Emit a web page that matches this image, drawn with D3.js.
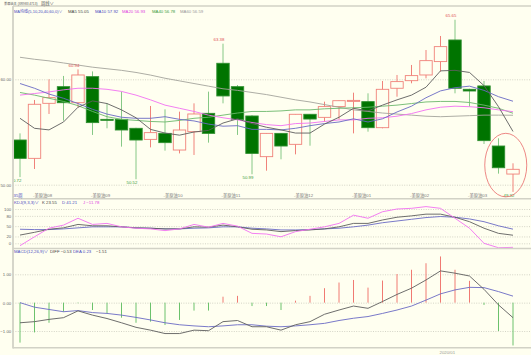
<!DOCTYPE html>
<html lang="zh">
<head>
  <meta charset="UTF-8">
  <title>美原油 周线</title>
  <style>
    body { margin: 0; background: #fffff0; }
    svg { display: block; }
  </style>
</head>
<body>
  <svg id="chart" width="531" height="355"></svg>

  <script src="https://d3js.org/d3.v7.min.js"></script>
  <script>
    // Weekly candles
    const opens  = [54.24, 52.50, 57.72, 59.30, 57.78, 60.25, 56.20, 56.20, 55.35, 54.30, 54.87, 53.29, 55.03, 56.77, 61.52, 59.30, 56.52, 52.66, 54.87, 53.83, 56.68, 56.39, 57.41, 57.97, 57.88, 55.41, 59.15, 59.87, 60.41, 61.68, 63.73, 59.05, 59.37, 53.67, 51.01]
    const highs  = [54.87, 58.04, 60.00, 60.32, 60.94, 60.75, 57.72, 58.83, 55.40, 57.47, 57.15, 56.93, 57.72, 58.83, 63.38, 59.46, 56.60, 54.90, 54.90, 56.70, 56.70, 57.88, 58.00, 58.73, 58.67, 59.84, 60.41, 61.36, 62.78, 64.11, 65.65, 59.10, 59.84, 54.40, 52.03]
    const lows   = [50.72, 51.49, 56.71, 56.08, 57.34, 54.72, 55.35, 53.61, 50.52, 53.54, 53.23, 52.97, 52.82, 53.99, 57.72, 54.72, 50.99, 51.33, 52.41, 52.88, 53.70, 55.98, 56.20, 54.87, 55.03, 55.35, 58.35, 59.62, 60.09, 60.73, 58.67, 57.41, 53.86, 51.05, 49.32]
    const closes = [52.50, 57.63, 58.26, 57.78, 60.41, 55.89, 56.15, 55.19, 54.24, 54.94, 53.99, 55.19, 56.71, 54.87, 58.42, 56.20, 52.97, 54.87, 53.67, 56.68, 56.23, 57.41, 57.97, 58.00, 55.41, 59.05, 59.78, 60.35, 61.77, 63.10, 59.15, 58.89, 54.18, 51.61, 51.46]

    // Moving averages
    const ma5  = [56.30, 55.35, 55.20, 55.95, 57.35, 57.95, 57.70, 57.10, 56.35, 55.25, 54.90, 54.70, 55.00, 55.15, 55.85, 56.25, 55.80, 55.45, 55.20, 54.90, 54.90, 55.75, 56.40, 57.25, 57.00, 57.55, 58.05, 58.50, 59.25, 60.80, 60.85, 60.65, 59.40, 57.40, 55.05]
    const ma10 = [59.60, 59.15, 58.60, 58.20, 57.70, 57.15, 56.70, 56.40, 56.30, 56.30, 56.45, 56.20, 56.05, 55.75, 55.55, 55.60, 55.25, 55.25, 55.20, 55.35, 55.60, 55.80, 55.95, 56.25, 55.95, 56.25, 56.90, 57.45, 58.25, 58.90, 59.20, 59.35, 58.95, 58.35, 57.92]
    const ma20 = [58.50, 58.65, 58.80, 59.00, 59.15, 59.15, 59.05, 58.85, 58.50, 58.05, 57.55, 57.25, 56.95, 56.60, 56.35, 56.15, 55.90, 55.70, 55.60, 55.80, 55.85, 56.00, 56.15, 56.15, 56.30, 56.35, 56.50, 56.75, 57.10, 57.35, 57.45, 57.40, 57.30, 57.10, 56.93]
    const ma40 = [58.75, 58.50, 58.20, 57.90, 57.50, 56.95, 56.45, 56.20, 56.10, 56.00, 55.95, 56.10, 56.30, 56.40, 56.60, 56.80, 56.95, 56.95, 57.00, 57.10, 57.10, 57.20, 57.25, 57.30, 57.35, 57.45, 57.55, 57.70, 57.85, 57.90, 57.90, 57.80, 57.55, 57.25, 56.78]
    const ma60 = [62.09, 61.90, 61.75, 61.55, 61.35, 61.15, 61.00, 60.85, 60.65, 60.40, 60.10, 59.85, 59.60, 59.35, 59.10, 58.95, 58.75, 58.55, 58.30, 58.05, 57.85, 57.60, 57.35, 57.10, 56.95, 56.80, 56.70, 56.60, 56.50, 56.45, 56.50, 56.55, 56.60, 56.60, 56.59]

    // KDJ(9,3,3)
    const kValues = [24, 32, 41, 45, 55, 51, 51, 48, 45, 44, 42, 42, 48, 47, 53, 48, 41, 39, 34, 37, 39, 42, 48, 58, 58, 68, 76, 80, 85, 85, 76, 63, 44, 29, 23.55]
    const dValues = [41, 40, 40, 42, 45, 48, 48, 48, 45, 44, 42, 42, 44, 45, 48, 48, 44, 42, 39, 39, 40, 42, 44, 48, 53, 60, 65, 70, 75, 78, 76, 71, 63, 51, 41.21]
    const jValues = [-7, 19, 44, 53, 73, 55, 58, 48, 44, 42, 37, 42, 55, 47, 58, 50, 29, 27, 19, 34, 41, 48, 58, 82, 73, 92, 100, 102, 107, 102, 73, 44, 0, -13, -11.78]

    // MACD(12,26,9)
    const difValues  = [-0.71, -0.67, -0.59, -0.53, -0.29, -0.44, -0.56, -0.71, -0.87, -0.97, -1.09, -1.09, -0.97, -0.99, -0.67, -0.63, -0.85, -0.85, -0.97, -0.78, -0.67, -0.41, -0.26, -0.12, -0.20, 0.04, 0.29, 0.51, 0.80, 1.12, 1.04, 0.94, 0.47, -0.08, -0.53]
    const deaValues  = [0.00, -0.16, -0.24, -0.32, -0.28, -0.35, -0.38, -0.44, -0.52, -0.61, -0.71, -0.78, -0.82, -0.85, -0.82, -0.78, -0.78, -0.83, -0.85, -0.82, -0.78, -0.73, -0.63, -0.55, -0.49, -0.38, -0.26, -0.12, 0.09, 0.31, 0.45, 0.54, 0.53, 0.39, 0.23]
    const macdValues = [-1.41, -1.05, -0.71, -0.32, -0.02, -0.26, -0.37, -0.53, -0.71, -0.67, -0.79, -0.61, -0.28, -0.28, 0.21, 0.24, -0.12, -0.12, -0.26, 0.07, 0.24, 0.51, 0.71, 0.80, 0.53, 0.78, 1.01, 1.16, 1.39, 1.63, 1.16, 0.77, -0.08, -1.00, -1.51]

    // Axis labels
    const monthWeeks  = [1, 5, 10, 14, 19, 23, 27, 31]
    const monthLabels = ['-美原油08', '-美原油09', '-美原油10', '-美原油11', '-美原油12', '-美原油01', '-美原油02', '-美原油03']
    const priceTicks = [50, 60]
    const kdjTicks   = [0, 20, 50, 80, 100]
    const macdTicks  = [-1, 0, 1]
    const yearWeek = 29
    const yearLabel = '2020/01'

    // Weeks whose high / low gets a price label
    const peakWeeks   = [4, 14, 30]
    const troughWeeks = [0, 8, 16, 34]

    const W = 531
    const H = 355
    const left = 13
    const bg = '#fffff0'
    const font = '"Liberation Sans", Arial, "Noto Sans CJK SC", sans-serif'
    const fs = 4.3
    const upColor = '#f0827a'
    const downWick = '#86c886'
    const downBody = '#007400'

    const svg = d3.select('#chart')
      .attr('font-family', font)
      .attr('font-size', fs)

    svg.append('rect').attr('width', W).attr('height', H).attr('fill', bg)

    // Scales
    const x = d3.scalePoint().domain(d3.range(opens.length)).range([20, 513])
    const yPrice = d3.scaleLinear().domain([50, 60]).range([184.7, 79.3])
    const yKdj = d3.scaleLinear().domain([0, 100]).range([243.3, 209])
    const yMacd = d3.scaleLinear().domain([-1, 1]).range([331, 274.3])
    const bodyW = 12.4

    const defs = svg.append('defs')
    defs.append('clipPath').attr('id', 'clip-price')
      .append('rect').attr('x', left + 1).attr('y', 7).attr('width', W - left).attr('height', 191)
    defs.append('clipPath').attr('id', 'clip-kdj')
      .append('rect').attr('x', left + 1).attr('y', 205).attr('width', W - left).attr('height', 43)

    // Grid lines + left tick labels
    const gridAxis = (scale, ticks, fmt) => {
      const g = svg.append('g')
        .attr('transform', `translate(${left}, 0)`)
        .call(d3.axisLeft(scale).tickValues(ticks).tickFormat(fmt).tickSize(-(W - left)).tickPadding(1.8))
        .attr('font-family', font)
        .attr('font-size', fs)
      g.select('.domain').remove()
      g.selectAll('line').attr('stroke', '#c9c9bd').attr('stroke-width', 0.8).attr('stroke-dasharray', '1,1.4')
      g.selectAll('text').attr('fill', '#666')
    }
    gridAxis(yPrice, priceTicks, d3.format('.2f'))
    gridAxis(yKdj, kdjTicks, d3.format('d'))
    gridAxis(yMacd, macdTicks, d3.format('.2f'))

    // Candles
    const candles = svg.append('g').attr('clip-path', 'url(#clip-price)')
      .selectAll('g')
      .data(opens)
      .join('g')

    candles.append('line')
      .attr('x1', (d, i) => x(i))
      .attr('x2', (d, i) => x(i))
      .attr('y1', (d, i) => yPrice(highs[i]))
      .attr('y2', (d, i) => yPrice(lows[i]))
      .attr('stroke', (d, i) => closes[i] >= opens[i] ? upColor : downWick)
      .attr('stroke-width', 1)

    candles.append('rect')
      .attr('x', (d, i) => x(i) - bodyW / 2)
      .attr('y', (d, i) => yPrice(Math.max(opens[i], closes[i])))
      .attr('width', bodyW)
      .attr('height', (d, i) => Math.max(1, Math.abs(yPrice(opens[i]) - yPrice(closes[i]))))
      .attr('fill', (d, i) => closes[i] >= opens[i] ? bg : downBody)
      .attr('stroke', (d, i) => closes[i] >= opens[i] ? upColor : '#2f8f2f')
      .attr('stroke-width', 0.9)

    // Line helper
    const drawLine = (values, scale, color, clip) => {
      svg.append('path')
        .datum(values)
        .attr('clip-path', clip)
        .attr('fill', 'none')
        .attr('stroke', color)
        .attr('stroke-width', 0.9)
        .attr('d', d3.line().x((d, i) => x(i)).y(d => scale(d)))
    }

    drawLine(ma60, yPrice, '#a4a49c', 'url(#clip-price)')
    drawLine(ma40, yPrice, '#6cb86c', 'url(#clip-price)')
    drawLine(ma20, yPrice, '#f270f2', 'url(#clip-price)')
    drawLine(ma10, yPrice, '#6a6ac4', 'url(#clip-price)')
    drawLine(ma5, yPrice, '#5e5e5e', 'url(#clip-price)')

    // High / low labels
    svg.append('g').attr('clip-path', 'url(#clip-price)')
      .selectAll('text.peak')
      .data(peakWeeks)
      .join('text')
      .attr('x', i => x(i) - 4)
      .attr('y', i => yPrice(highs[i]) - 2.6)
      .attr('text-anchor', 'middle')
      .attr('fill', '#e05050')
      .text(i => highs[i].toFixed(2))

    svg.append('g').attr('clip-path', 'url(#clip-price)')
      .selectAll('text.trough')
      .data(troughWeeks)
      .join('text')
      .attr('x', i => x(i) - 4)
      .attr('y', i => yPrice(lows[i]) + 5)
      .attr('text-anchor', 'middle')
      .attr('fill', '#3a9a3a')
      .text(i => lows[i].toFixed(2))

    // Circle round the last two weeks
    const n = opens.length
    const cy1 = yPrice(highs[n - 2])
    const cy2 = yPrice(lows[n - 1])
    svg.append('ellipse')
      .attr('cx', (x(n - 2) + x(n - 1)) / 2)
      .attr('cy', (cy1 + cy2) / 2)
      .attr('rx', 21)
      .attr('ry', (cy2 - cy1) / 2 + 5)
      .attr('fill', 'none')
      .attr('stroke', '#e86a6a')
      .attr('stroke-width', 0.8)

    // KDJ lines
    drawLine(dValues, yKdj, '#6a6ac4', 'url(#clip-kdj)')
    drawLine(kValues, yKdj, '#5e5e5e', 'url(#clip-kdj)')
    drawLine(jValues, yKdj, '#f270f2', 'url(#clip-kdj)')

    // MACD histogram
    svg.append('g')
      .selectAll('line')
      .data(macdValues)
      .join('line')
      .attr('x1', (d, i) => x(i))
      .attr('x2', (d, i) => x(i))
      .attr('y1', yMacd(0))
      .attr('y2', d => yMacd(d))
      .attr('stroke', d => d >= 0 ? '#f07a72' : '#6cc26c')
      .attr('stroke-width', 1)

    drawLine(deaValues, yMacd, '#6a6ac4', null)
    drawLine(difValues, yMacd, '#5e5e5e', null)

    // Panel borders
    const border = '#d2d2c6'
    ;[6, 198.7, 248.5, 347.8].forEach(yy => {
      svg.append('line').attr('x1', left).attr('x2', W).attr('y1', yy).attr('y2', yy)
        .attr('stroke', border).attr('stroke-width', 1.6)
    })
    svg.append('line').attr('x1', left).attr('x2', left).attr('y1', 6).attr('y2', 348.6)
      .attr('stroke', border).attr('stroke-width', 1.8)

    // Month labels under the price panel
    svg.append('g')
      .selectAll('text')
      .data(monthWeeks)
      .join('text')
      .attr('x', i => x(i) - 1.5)
      .attr('y', 197.4)
      .attr('fill', '#777')
      .text((d, i) => monthLabels[i])

    svg.append('text').attr('x', left + 0.5).attr('y', 197.4).attr('fill', '#4a4ac0').text('35周')

    svg.append('text').attr('x', x(yearWeek) - 1).attr('y', 354).attr('fill', '#999').text(yearLabel)

    // Legends
    const fmt2 = d3.format('.2f')
    const legend = (yy, parts) => {
      parts.forEach(p => {
        const t = svg.append('text').attr('x', p[2]).attr('y', yy).attr('fill', p[1]).text(p[0])
        if (p[3]) t.attr('font-size', p[3])
      })
    }

    legend(4.6, [
      ['美原油主 (XR983 4713)', '#555', 4, 3.2],
      ['周线∨', '#555', 41]
    ])
    legend(12.6, [
      ['MA均线(5,10,20,40,60,0)∨', '#4a4ac0', 14, 4],
      [`MA5 ${fmt2(ma5[n - 1])}`, '#444', 68],
      [`MA10 ${fmt2(ma10[n - 1])}`, '#4a4ac0', 95],
      [`MA20 ${fmt2(ma20[n - 1])}`, '#e040e0', 122],
      [`MA40 ${fmt2(ma40[n - 1])}`, '#3c9c3c', 152],
      [`MA60 ${fmt2(ma60[n - 1])}`, '#999', 180]
    ])
    legend(203.9, [
      ['KDJ(9,3,3)∨', '#4a4ac0', 14],
      [`K ${fmt2(kValues[n - 1])}`, '#444', 42],
      [`D ${fmt2(dValues[n - 1])}`, '#4a4ac0', 62],
      [`J ${fmt2(jValues[n - 1])}`, '#e040e0', 83]
    ])
    legend(253.2, [
      ['MACD(12,26,9)∨', '#4a4ac0', 14],
      [`DIFF ${fmt2(difValues[n - 1])}`, '#444', 50],
      [`DEA ${fmt2(deaValues[n - 1])}`, '#4a4ac0', 73],
      [fmt2(macdValues[n - 1]), '#444', 96]
    ])
  </script>
</body>
</html>
